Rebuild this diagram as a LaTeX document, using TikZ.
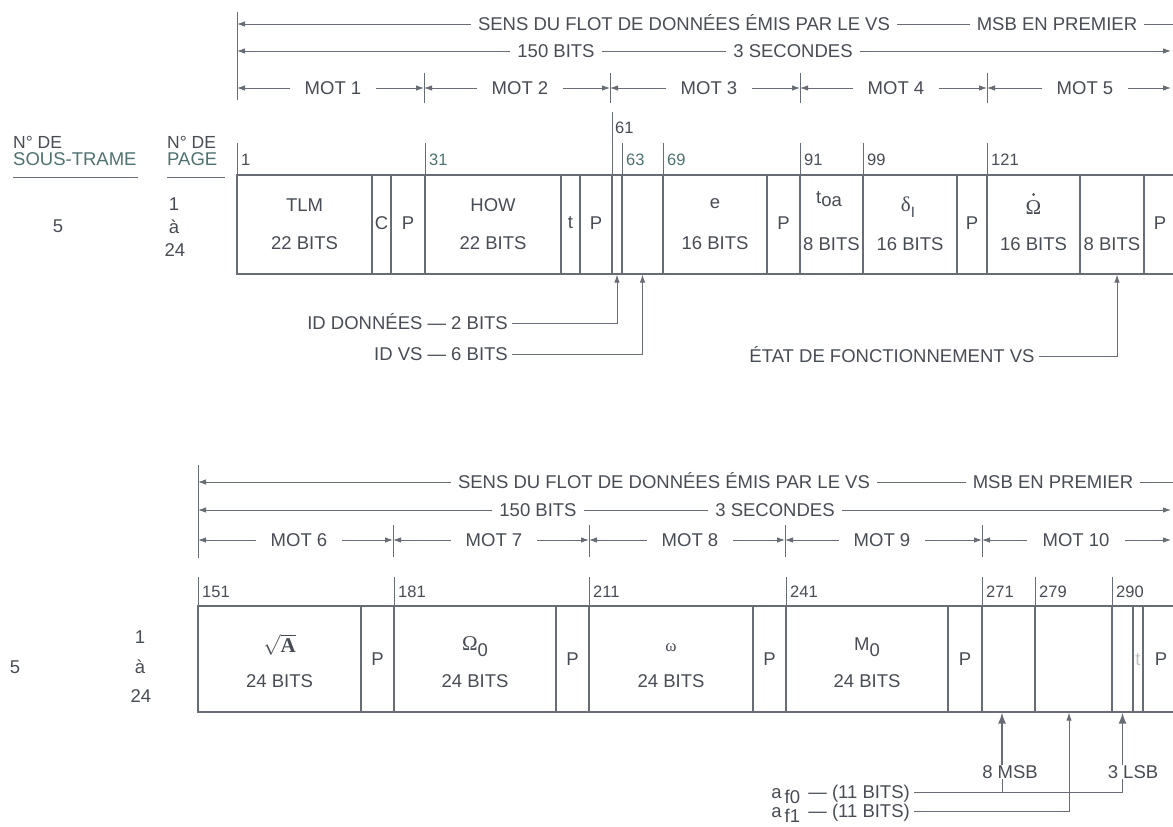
\documentclass[tikz,border=0pt]{standalone}
\usepackage{fontspec}
\setmainfont{Liberation Sans}
\newfontfamily\serf{Liberation Serif}
\usetikzlibrary{arrows.meta,calc}
\definecolor{ink}{RGB}{72,76,84}
\definecolor{tealgray}{RGB}{78,114,112}
\definecolor{rulec}{RGB}{104,108,116}
\newcommand{\hf}{\fontsize{18.5}{22}\selectfont}
\newcommand{\tf}{\fontsize{16.5}{20}\selectfont}
\newcommand{\gk}{\fontsize{21}{22}\selectfont\serf}
\begin{document}
\begin{tikzpicture}[x=1pt,y=-1pt,
  lbl/.style={font=\hf, text=ink, inner xsep=4pt, inner ysep=0pt, text height=13.2pt, text depth=0pt},
  hd/.style={lbl, inner xsep=7pt},
  mot/.style={lbl, inner xsep=15pt},
  num/.style={font=\tf, text=ink, inner sep=1pt, anchor=west, text height=11.8pt, text depth=0pt},
  ln/.style={draw=rulec, line width=0.9pt},
  arr/.style={ln, -{Latex[length=8pt,width=5.5pt]}},
  bigarr/.style={draw=rulec, line width=1.4pt, -{Latex[length=11pt,width=8pt]}},
  field/.style={draw=rulec, line width=1.3pt, inner sep=0pt},
  fa/.style={field, minimum height=99pt},
  fb/.style={field, minimum height=106pt},
]
\useasboundingbox (0,0) rectangle (1173,827);
\fill[white] (0,0) rectangle (1173,827);
\clip (0,0) rectangle (1173,827);

% ================= TOP BLOCK HEADER =================
\draw[ln] (237,12) -- (237,100);
\coordinate (tl1) at (237,24);
\coordinate (tr1) at (1190,24);
\node[hd] (ts) at (684,24) {SENS DU FLOT DE DONNÉES ÉMIS PAR LE VS};
\node[hd] (tm) at (1057,24) {MSB EN PREMIER};
\draw[arr] (ts.west) -- (tl1);
\draw[ln] (ts.east) -- (tm.west);
\draw[ln] (tm.east) -- (tr1);

\coordinate (tl2) at (237,51);
\coordinate (tr2) at (1171,51);
\node[hd] (tb) at (556,51) {150 BITS};
\node[hd] (tc) at (793,51) {3 SECONDES};
\draw[arr] (tb.west) -- (tl2);
\draw[ln] (tb.east) -- (tc.west);
\draw[arr] (tc.east) -- (tr2);

\foreach \x in {424,610,800,987} \draw[ln] (\x,73) -- (\x,103);
\coordinate (td0) at (237,88);
\coordinate (td1) at (424,88);
\coordinate (td2) at (610,88);
\coordinate (td3) at (800,88);
\coordinate (td4) at (987,88);
\coordinate (td5) at (1171,88);
\node[mot] (tw1) at (333,88) {MOT 1};
\node[mot] (tw2) at (520,88) {MOT 2};
\node[mot] (tw3) at (709,88) {MOT 3};
\node[mot] (tw4) at (896,88) {MOT 4};
\node[mot] (tw5) at (1085,88) {MOT 5};
\foreach \i/\j in {1/0,2/1,3/2,4/3,5/4} {
  \draw[arr] (tw\i.west) -- (td\j);
  \draw[arr] (tw\i.east) -- (td\i);
}

% left column labels
\node[lbl, anchor=west, inner xsep=0pt, font=\fontsize{17.5}{20}\selectfont, text height=12.5pt] (nd1) at (13,142) {N° DE};
\node[lbl, anchor=west, inner xsep=0pt, text=tealgray] (sst) at (13,159) {SOUS-TRAME};
\draw[ln] (13,177) -- (138,177);
\node[lbl, anchor=west, inner xsep=0pt, font=\fontsize{17.5}{20}\selectfont, text height=12.5pt] (nd2) at (167,142) {N° DE};
\node[lbl, anchor=west, inner xsep=0pt, text=tealgray] (pge) at (167,159) {PAGE};
\draw[ln] (167,177) -- (225,177);
\node[lbl] (sf1) at (58,226) {5};
\node[lbl] (pa1) at (174,204) {1};
\node[lbl] (pa2) at (174,227) {à};
\node[lbl] (pa3) at (175,250) {24};

% ticks row 1
\foreach \x in {237,425,622,663,800,863,987} \draw[ln] (\x,143) -- (\x,175);
\draw[ln] (612,112) -- (612,175);
\node[num] (n1) at (240,160) {1};
\node[num, text=tealgray] (n31) at (428,160) {31};
\node[num] (n61) at (614,128) {61};
\node[num, text=tealgray] (n63) at (625,160) {63};
\node[num, text=tealgray] (n69) at (666,160) {69};
\node[num] (n91) at (803,160) {91};
\node[num] (n99) at (866,160) {99};
\node[num] (n121) at (990,160) {121};

% fields row 1 (y 175..274)
\node[fa, minimum width=135pt] (f1) at (304.5,224.5) {};
\node[fa, minimum width=19pt] (f2) at (381.5,224.5) {};
\node[fa, minimum width=34pt] (f3) at (408,224.5) {};
\node[fa, minimum width=136pt] (f4) at (493,224.5) {};
\node[fa, minimum width=19pt] (f5) at (570.5,224.5) {};
\node[fa, minimum width=32pt] (f6) at (596,224.5) {};
\node[fa, minimum width=10pt] (fid) at (617,224.5) {};
\node[fa, minimum width=41pt] (fvs) at (642.5,224.5) {};
\node[fa, minimum width=104pt] (f9) at (715,224.5) {};
\node[fa, minimum width=33pt] (f10) at (783.5,224.5) {};
\node[fa, minimum width=63pt] (f11) at (831.5,224.5) {};
\node[fa, minimum width=94pt] (f12) at (910,224.5) {};
\node[fa, minimum width=30pt] (f13) at (972,224.5) {};
\node[fa, minimum width=93pt] (f14) at (1033.5,224.5) {};
\node[fa, minimum width=64pt] (f15) at (1112,224.5) {};
\node[fa, minimum width=40pt] (f16) at (1164,224.5) {};

\node[lbl] at (304.5,205) {TLM};
\node[lbl] at (304.5,243) {22 BITS};
\node[lbl] at (381.5,223) {C};
\node[lbl] at (408,223) {P};
\node[lbl] at (493,205) {HOW};
\node[lbl] at (493,243) {22 BITS};
\node[lbl] at (570.5,222) {t};
\node[lbl] at (596,223) {P};
\node[lbl] at (715,202) {e};
\node[lbl] at (715,243) {16 BITS};
\node[lbl] at (783.5,223) {P};
\node[lbl] at (829,200) {\raisebox{0.35ex}{t}oa};
\node[lbl] at (831.5,244) {8 BITS};
\node[lbl] at (908,205) {{\gk δ}\raisebox{-0.6ex}{\fontsize{15}{15}\selectfont I}};
\node[lbl] at (910,244) {16 BITS};
\node[lbl] at (972,223) {P};
\node[lbl] (omd) at (1033.5,208) {{\gk Ω}};
\fill[ink] (1033.5,194.5) circle (1.5pt);
\node[lbl] at (1033.5,244) {16 BITS};
\node[lbl] at (1112,244) {8 BITS};
\node[lbl] at (1160,223) {P};

% annotations below row 1
\node[lbl, anchor=east] (idd) at (512,323) {ID DONNÉES — 2 BITS};
\node[lbl, anchor=east] (idv) at (512,354) {ID VS — 6 BITS};
\node[lbl] (etat) at (892,356) {ÉTAT DE FONCTIONNEMENT VS};
\draw[arr] (idd.east) -| (fid.south);
\draw[arr] (idv.east) -| (fvs.south);
\draw[arr] (etat.east) -| ([xshift=5pt]f15.south);

% ================= BOTTOM BLOCK HEADER =================
\draw[ln] (198,465) -- (198,558);
\coordinate (bl1) at (198,482);
\coordinate (br1) at (1190,482);
\node[hd] (bs) at (664,482) {SENS DU FLOT DE DONNÉES ÉMIS PAR LE VS};
\node[hd] (bm) at (1053,482) {MSB EN PREMIER};
\draw[arr] (bs.west) -- (bl1);
\draw[ln] (bs.east) -- (bm.west);
\draw[ln] (bm.east) -- (br1);

\coordinate (bl2) at (198,510);
\coordinate (br2) at (1171,510);
\node[hd] (bb) at (538,510) {150 BITS};
\node[hd] (bc) at (775,510) {3 SECONDES};
\draw[arr] (bb.west) -- (bl2);
\draw[ln] (bb.east) -- (bc.west);
\draw[arr] (bc.east) -- (br2);

\foreach \x in {393,589,785,982} \draw[ln] (\x,525) -- (\x,557);
\coordinate (bd0) at (198,540);
\coordinate (bd1) at (393,540);
\coordinate (bd2) at (589,540);
\coordinate (bd3) at (785,540);
\coordinate (bd4) at (982,540);
\coordinate (bd5) at (1171,540);
\node[mot] (bw1) at (299,540) {MOT 6};
\node[mot] (bw2) at (494,540) {MOT 7};
\node[mot] (bw3) at (690,540) {MOT 8};
\node[mot] (bw4) at (882,540) {MOT 9};
\node[mot] (bw5) at (1076,540) {MOT 10};
\foreach \i/\j in {1/0,2/1,3/2,4/3,5/4} {
  \draw[arr] (bw\i.west) -- (bd\j);
  \draw[arr] (bw\i.east) -- (bd\i);
}

\node[lbl] (sf2) at (15,667) {5};
\node[lbl] (pb1) at (140,637) {1};
\node[lbl] (pb2) at (140,667) {à};
\node[lbl] (pb3) at (141,696) {24};

% ticks row 2
\foreach \x in {198,394,589,786,982,1035,1112} \draw[ln] (\x,577) -- (\x,606);
\node[num] (m151) at (201,592) {151};
\node[num] (m181) at (397,592) {181};
\node[num] (m211) at (592,592) {211};
\node[num] (m241) at (789,592) {241};
\node[num] (m271) at (985,592) {271};
\node[num] (m279) at (1038,592) {279};
\node[num] (m290) at (1115,592) {290};

% fields row 2 (y 606..712)
\node[fb, minimum width=163pt] (g1) at (279.5,659) {};
\node[fb, minimum width=33pt] (g2) at (377.5,659) {};
\node[fb, minimum width=162pt] (g3) at (475,659) {};
\node[fb, minimum width=33pt] (g4) at (572.5,659) {};
\node[fb, minimum width=164pt] (g5) at (671,659) {};
\node[fb, minimum width=33pt] (g6) at (769.5,659) {};
\node[fb, minimum width=162pt] (g7) at (867,659) {};
\node[fb, minimum width=34pt] (g8) at (965,659) {};
\node[fb, minimum width=53pt] (a0m) at (1008.5,659) {};
\node[fb, minimum width=77pt] (a1) at (1073.5,659) {};
\node[fb, minimum width=21pt] (a0l) at (1122.5,659) {};
\node[fb, minimum width=10pt] (g12) at (1138,659) {};
\node[fb, minimum width=40pt] (g13) at (1163,659) {};

\node[lbl] at (279.5,646) {{\gk$\sqrt{\hbox{\gk\bfseries A}}$}};
\node[lbl] at (279.5,681) {24 BITS};
\node[lbl] at (377.5,659) {P};
\node[lbl] at (475,644) {{\gk Ω}\raisebox{-0.6ex}{0}};
\node[lbl] at (475,681) {24 BITS};
\node[lbl] at (572.5,659) {P};
\node[lbl] at (671,645) {{\fontsize{17}{17}\selectfont\serf ω}};
\node[lbl] at (671,681) {24 BITS};
\node[lbl] at (769.5,659) {P};
\node[lbl] at (867,644) {M\raisebox{-0.6ex}{0}};
\node[lbl] at (867,681) {24 BITS};
\node[lbl] at (965,659) {P};
\node[lbl, text=ink!35] at (1138,659) {t};
\node[lbl] at (1161,659) {P};

% annotations below row 2
\node[lbl] (m8) at (1010,772) {8 MSB};
\node[lbl] (l3) at (1133,772) {3 LSB};
\node[lbl, anchor=east] (af0) at (914,792) {a\,\raisebox{-0.5ex}{f0}\, — (11 BITS)};
\node[lbl, anchor=east] (af1) at (914,811) {a\,\raisebox{-0.5ex}{f1}\, — (11 BITS)};
\coordinate (k8) at (1002,792);
\coordinate (k3) at (1122.5,792);
\draw[ln] (af0.east) -- (k3) -- (k3 |- l3.south);
\draw[bigarr] (k3 |- l3.north) -- (a0l.south);
\draw[ln] (k8) -- (k8 |- m8.south);
\draw[bigarr] (k8 |- m8.north) -- (k8 |- a0m.south);
\draw[arr] (af1.east) -| ([xshift=-4.5pt]a1.south);
\end{tikzpicture}
\end{document}
